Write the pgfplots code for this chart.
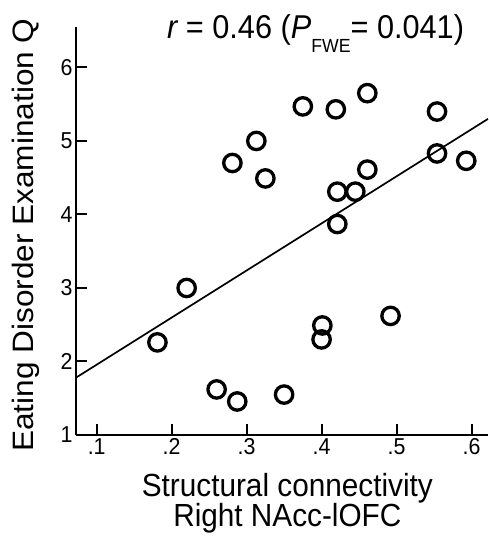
\documentclass[border=0pt]{standalone}
\usepackage{pgfplots}
\pgfplotsset{compat=1.18}
\usepackage{fontspec}
\setmainfont{Liberation Sans}[FakeStretch=0.93]
\newfontfamily\ylabfont{Liberation Sans}[FakeStretch=1.07]
\begin{document}
\begin{tikzpicture}
\useasboundingbox (0,0) rectangle (488pt,543pt);
\begin{axis}[
  at={(76pt,108pt)}, anchor=south west,
  scale only axis, width=412pt, height=408pt,
  xmin=0.0724, xmax=0.622, ymin=1, ymax=6.55,
  axis x line*=bottom, axis y line*=left,
  axis line style={line width=2.2pt, -},
  xtick={0.1,0.2,0.3,0.4,0.5,0.6},
  xticklabels={.1,.2,.3,.4,.5,.6},
  ytick={1,2,3,4,5,6},
  tick align=inside, major tick length=11pt,
  tick style={line width=2pt, black},
  ticklabel style={font=\fontsize{23}{23}\selectfont},
  /pgf/number format/assume math mode=true,
  xlabel={Structural connectivity\\Right NAcc-lOFC},
  xlabel style={align=center, font=\fontsize{32}{30}\selectfont, inner sep=0pt,
    at={(axis description cs:0.513,-0.0944)}, anchor=north},
  ylabel={Eating Disorder Examination Q},
  ylabel style={font=\ylabfont\fontsize{29.5}{29.5}\selectfont, inner sep=0pt,
    at={(axis description cs:-0.103,0.49)}, anchor=base},
  clip=false,
]
\addplot[black, line width=1.7pt] coordinates {(0.0724,1.78) (0.622,5.30)};
\addplot[only marks, mark=o, mark size=8.7pt, mark options={line width=3.3pt, black}] coordinates {
(0.181,2.26) (0.220,3.00) (0.260,1.62) (0.2875,1.456) (0.281,4.70)
(0.313,5.00) (0.325,4.49) (0.350,1.55) (0.375,5.47) (0.401,2.49)
(0.400,2.30) (0.419,5.43) (0.421,4.31) (0.421,3.87) (0.445,4.31)
(0.461,5.65) (0.461,4.61) (0.492,2.62) (0.554,5.40) (0.554,4.83)
(0.593,4.73)
};
\end{axis}
\node[anchor=base west, inner sep=0pt, font=\fontsize{33}{33}\selectfont] at (167pt,504pt)
  {{\itshape r} = 0.46 ({\itshape P}\raisebox{-14pt}{\fontsize{19}{19}\selectfont FWE}= 0.041)};
\end{tikzpicture}
\end{document}
